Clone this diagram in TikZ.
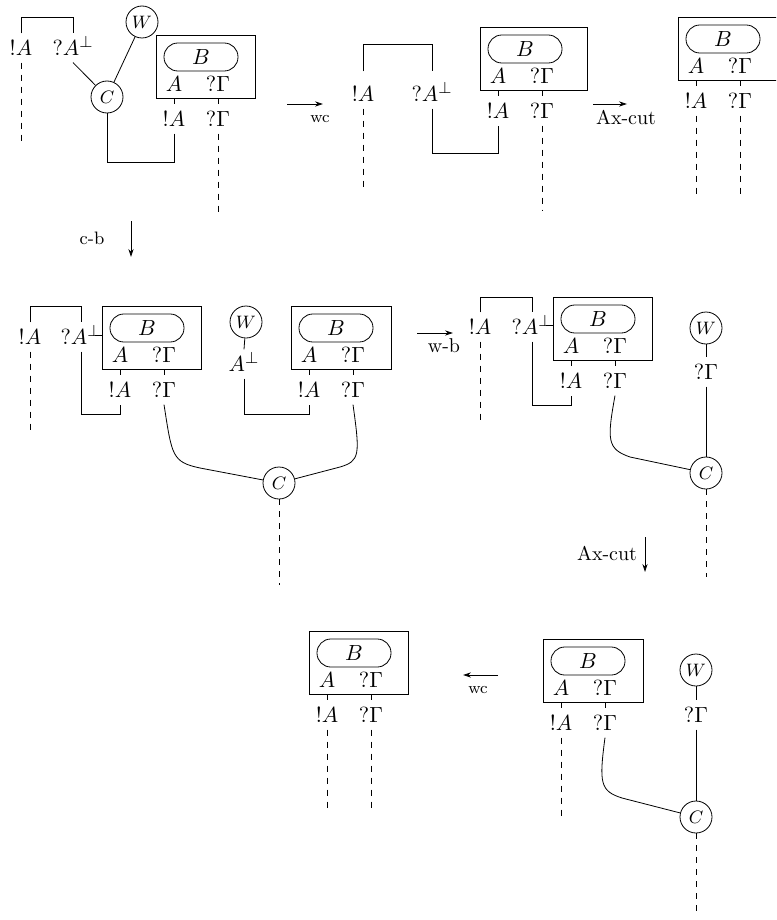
\documentclass[tikz,border=0pt]{standalone}
\usetikzlibrary{arrows.meta,calc}
\tikzset{
  lab/.style={inner sep=3.33pt, text height=7.5pt, text depth=0pt, font=\fontsize{10.95}{13}\selectfont},
  pill/.style={draw, rounded corners=6.9pt, minimum width=37pt, minimum height=14pt, inner sep=0pt, font=\fontsize{10.95}{13}\selectfont},
  boxmod/.style={draw, line width=0.5pt, anchor=north west, minimum height=31.5pt, inner sep=0pt},
  ring/.style={draw, circle, minimum size=16pt, inner sep=0pt, font=\small},
  cut/.style={dashed},
  rw/.style={-{Stealth[length=4pt,width=2.6pt]}},
  rwlab/.style={inner sep=1pt}
}
% prefix, left, top, width(px)
\newcommand\Bmod[4]{%
  \node[boxmod, minimum width=#4*0.5pt] (#1) at (#2,#3) {};
  \node[pill] (#1p) at ({#2+45},{#3+22}) {$B$};
  \node[lab] (#1a) at ({#2+18},{#3+49}) {$A$};
  \node[lab] (#1g) at ({#2+62},{#3+49}) {$?\Gamma$};
  \node[lab] (#1A) at ({#2+18},{#3+84}) {$!A$};
  \node[lab] (#1G) at ({#2+62},{#3+84}) {$?\Gamma$};
  \draw (#1a |- #1.south) -- (#1A.north);
  \draw (#1g |- #1.south) -- (#1G.north);
}
\begin{document}
\begin{tikzpicture}[x=0.5pt,y=-0.5pt]
\clip (0,0) rectangle (776,920);
\useasboundingbox (0,0) rectangle (776,920);

% ---------------- diagram 1
\Bmod{ma}{156}{35}{99}
\node[lab] (d1a) at (21,48) {$!A$};
\node[lab] (d1b) at (73,48) {$?A^{\perp}$};
\node[ring] (c1) at (107,97) {$C$};
\node[ring] (w1) at (142,22) {$W$};
\draw (d1a.north) -- (d1a.north |- 0,17) -- (d1b.north |- 0,17) -- (d1b.north);
\coordinate (e1a) at (21,143);
\draw[cut] (d1a.south) -- (e1a);
\draw (d1b.south) -- (c1);
\draw (w1) -- (c1);
\draw (maA.south) -- (maA.south |- 0,162) -| (c1.south);
\coordinate (e1g) at (218,215);
\draw[cut] (maG.south) -- (e1g);
\coordinate (r1s) at (131,221);
\coordinate (r1e) at (131,257);
\draw[rw] (r1s) -- (r1e);
\node[rwlab] (r1l) at (92,238) {\small c-b};

% ---------------- diagram 2
\Bmod{mb}{480}{27}{107}
\node[lab] (d2a) at (363,94) {$!A$};
\node[lab] (d2b) at (432,94) {$?A^{\perp}$};
\draw ([yshift=4pt]d2a.north) -- (d2a.north |- 0,44) -- (d2b.north |- 0,44) -- ([yshift=4pt]d2b.north);
\coordinate (e2a) at (363,188);
\draw[cut] (d2a.south) -- (e2a);
\draw (d2b.south) -- (d2b.south |- 0,153) -| (mbA.south);
\coordinate (e2g) at (542,210);
\draw[cut] (mbG.south) -- (e2g);
\coordinate (r2s) at (287,104);
\coordinate (r2e) at (323,104);
\draw[rw] (r2s) -- (r2e);
\node[rwlab] (r2l) at (320,119) {\footnotesize wc};

% ---------------- diagram 3
\Bmod{mc}{678}{17}{107}
\coordinate (e3a) at (696,197);
\coordinate (e3g) at (740,197);
\draw[cut] (mcA.south) -- (e3a);
\draw[cut] (mcG.south) -- (e3g);
\coordinate (r3s) at (593,104);
\coordinate (r3e) at (627,104);
\draw[rw] (r3s) -- (r3e);
\node[rwlab] (r3l) at (626,117) {Ax-cut};

% ---------------- diagram 4
\Bmod{md}{102}{306}{99}
\Bmod{me}{291}{306}{100}
\node[lab] (d4a) at (30,337) {$!A$};
\node[lab] (d4b) at (81,337) {$?A^{\perp}$};
\draw (d4a.north) -- (d4a.north |- 0,306) -- (d4b.north |- 0,306) -- (d4b.north);
\draw (95,335) -- (md.west |- 0,335);
\coordinate (e4a) at (30,432);
\draw[cut] (d4a.south) -- (e4a);
\draw (d4b.south) -- (d4b.south |- 0,414) -| (mdA.south);
\node[ring] (c4) at (279,483) {$C$};
\node[ring] (w4) at (246,322) {$W$};
\node[lab] (d4c) at (244,364) {$A^{\perp}$};
\draw (w4) -- (d4c.north);
\draw (d4c.south) -- (d4c.south |- 0,414) -| (meA.south);
\draw (mdG.south) .. controls (172,456) and (172,462) .. (200,468) -- (c4);
\draw (meG.south) .. controls (360,455) and (360,461) .. (340,467) -- (c4);
\coordinate (e4c) at (279,585);
\draw[cut] (c4.south) -- (e4c);

% ---------------- diagram 5
\Bmod{mf}{553}{297}{99}
\node[lab] (d5a) at (480,327) {$!A$};
\node[lab] (d5b) at (532,327) {$?A^{\perp}$};
\draw (d5a.north) -- (d5a.north |- 0,297) -- (d5b.north |- 0,297) -- (d5b.north);
\draw (546,325) -- (mf.west |- 0,325);
\coordinate (e5a) at (480,423);
\draw[cut] (d5a.south) -- (e5a);
\draw (d5b.south) -- (d5b.south |- 0,405) -| (mfA.south);
\node[ring] (w5) at (706,328) {$W$};
\node[ring] (c5) at (706,473) {$C$};
\node[lab] (d5c) at (706,372) {$?\Gamma$};
\draw (w5) -- (d5c.north);
\draw (d5c.south) -- (c5);
\draw (mfG.south) .. controls (607,440) and (607,449) .. (630,457) -- (c5);
\coordinate (e5c) at (706,577);
\draw[cut] (c5.south) -- (e5c);
\coordinate (r4s) at (417,333);
\coordinate (r4e) at (453,333);
\draw[rw] (r4s) -- (r4e);
\node[rwlab] (r4l) at (444,346) {w-b};
\coordinate (r5s) at (645,537);
\coordinate (r5e) at (645,572);
\draw[rw] (r5s) -- (r5e);
\node[rwlab] (r5l) at (607,553) {Ax-cut};

% ---------------- diagram 6
\Bmod{mg}{309}{631}{99}
\coordinate (e6a) at (327,812);
\coordinate (e6g) at (371,812);
\draw[cut] (mgA.south) -- (e6a);
\draw[cut] (mgG.south) -- (e6g);
\coordinate (r6s) at (498,675);
\coordinate (r6e) at (463,675);
\draw[rw] (r6s) -- (r6e);
\node[rwlab] (r6l) at (478,690) {\footnotesize wc};

% ---------------- diagram 7
\Bmod{mh}{543}{639}{100}
\coordinate (e7a) at (561,820);
\draw[cut] (mhA.south) -- (e7a);
\node[ring] (w7) at (696,670) {$W$};
\node[ring] (c7) at (696,817) {$C$};
\node[lab] (d7c) at (696,715) {$?\Gamma$};
\draw (w7) -- (d7c.north);
\draw (d7c.south) -- (c7);
\draw (mhG.south) .. controls (599,783) and (600,791) .. (622,798) -- (c7);
\coordinate (e7c) at (696,917);
\draw[cut] (c7.south) -- (e7c);
\end{tikzpicture}
\end{document}
